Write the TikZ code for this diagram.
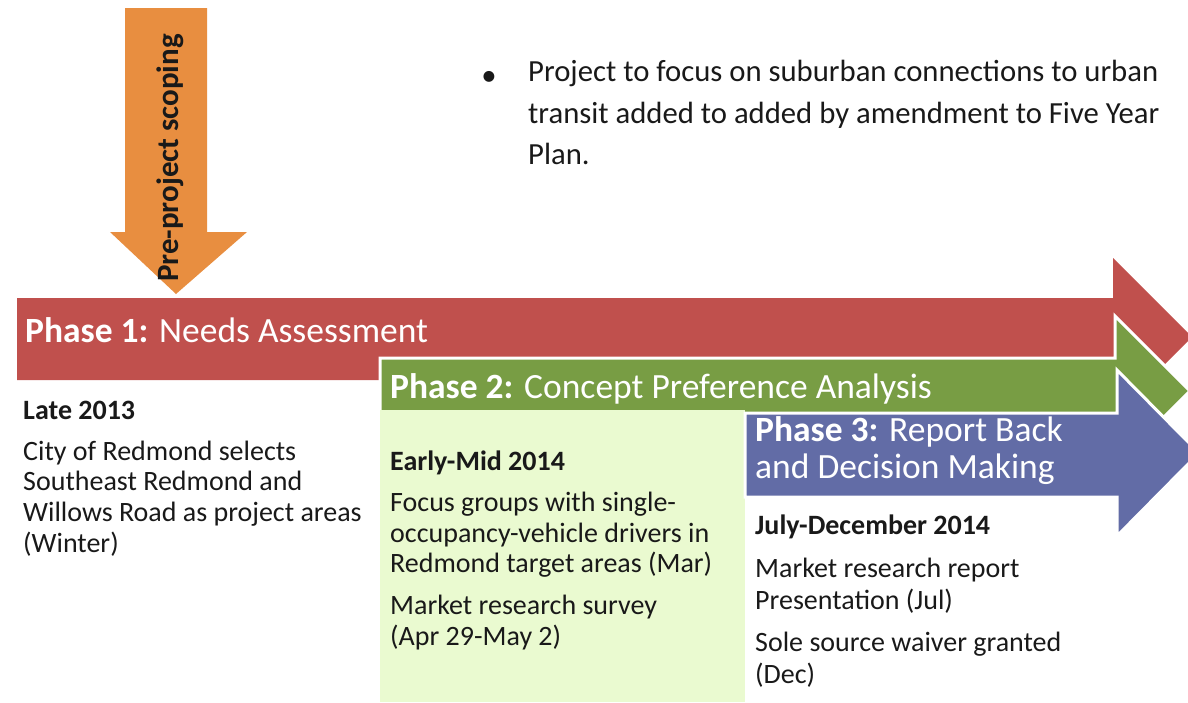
\documentclass[tikz,border=0pt]{standalone}
\usepackage{fontspec}
\setmainfont{Carlito}
\usetikzlibrary{positioning}

\definecolor{phred}{RGB}{192,80,77}
\definecolor{phgreen}{RGB}{120,157,68}
\definecolor{phblue}{RGB}{98,108,166}
\definecolor{scopeorange}{RGB}{232,142,64}
\definecolor{palegreen}{RGB}{234,250,208}
\definecolor{bodytext}{RGB}{25,25,25}

\begin{document}
\begin{tikzpicture}[x=1pt,y=-1pt,
        phasetitle/.style={text=white,inner sep=0pt,align=left,font=\fontsize{35.5}{37.5}\selectfont},
        phasebody/.style={text=bodytext,inner sep=0pt,align=left,anchor=north west,font=\fontsize{28}{30.7}\selectfont},
        band/.style={draw=white,line width=3pt,line join=miter}]
        \useasboundingbox (0,0) rectangle (1188,702);
        \begin{scope}
        \clip (0,0) rectangle (1188,702);
        % pre-project scoping
        \fill[scopeorange] (125,8) -- (207,8) -- (207,232) -- (247,232) -- (176,294)
            -- (110,232) -- (125,232) -- cycle;
        % phase 1
        \fill[phred] (17,298) -- (1113,298) -- (1113,258) -- (1192,337) -- (1113,416)
            -- (1113,380) -- (17,380) -- cycle;
        % phase 2
        \filldraw[band,fill=phgreen] (380,358) -- (1115,358) -- (1115,316) -- (1190,391)
            -- (1115,466) -- (1115,425) -- (380,425) -- cycle;
        \fill[palegreen] (380,410) rectangle (745,702);
        % phase 3
        \filldraw[band,fill=phblue] (745,413) -- (1117,413) -- (1117,370) -- (1199,453)
            -- (1117,536) -- (1117,497) -- (745,497) -- cycle;
        \end{scope}
        %
        \node (scoping) [rotate=90,text=bodytext,font=\bfseries\fontsize{31}{34}\selectfont] at (170,158) {Pre-project scoping};
        \node (bullet) [text=bodytext,font=\fontsize{30.7}{43}\selectfont] at (489,78) {•};
        \node (note) [phasebody,font=\fontsize{30.7}{41.5}\selectfont] at (528,60)
            {Project to focus on suburban connections to urban\\
             transit added to added by amendment to Five Year\\
             Plan.};
        % titles
        \node (p1) [phasetitle,anchor=base west] at (25,342) {\textbf{Phase 1:} Needs Assessment};
        \node (p2) [phasetitle,anchor=base west] at (390,398) {\textbf{Phase 2:} Concept Preference Analysis};
        \node (p3) [phasetitle,anchor=north west] at (755,416) {\textbf{Phase 3:} Report Back\\and Decision Making};
        % columns
        \node (p1body) [phasebody] at (23,401)
            {\textbf{Late 2013}\\[10pt]
             City of Redmond selects\\
             Southeast Redmond and\\
             Willows Road as project areas\\
             (Winter)};
        \node (p2body) [phasebody] at (390,451)
            {\textbf{Early-Mid 2014}\\[10pt]
             Focus groups with single-\\
             occupancy-vehicle drivers in\\
             Redmond target areas (Mar)\\[11pt]
             Market research survey\\
             (Apr 29-May 2)};
        \node (p3body) [phasebody,font=\fontsize{28}{32}\selectfont] at (755,515)
            {\textbf{July-December 2014}\\[11pt]
             Market research report\\
             Presentation (Jul)\\[10pt]
             Sole source waiver granted\\
             (Dec)};
\end{tikzpicture}
\end{document}
